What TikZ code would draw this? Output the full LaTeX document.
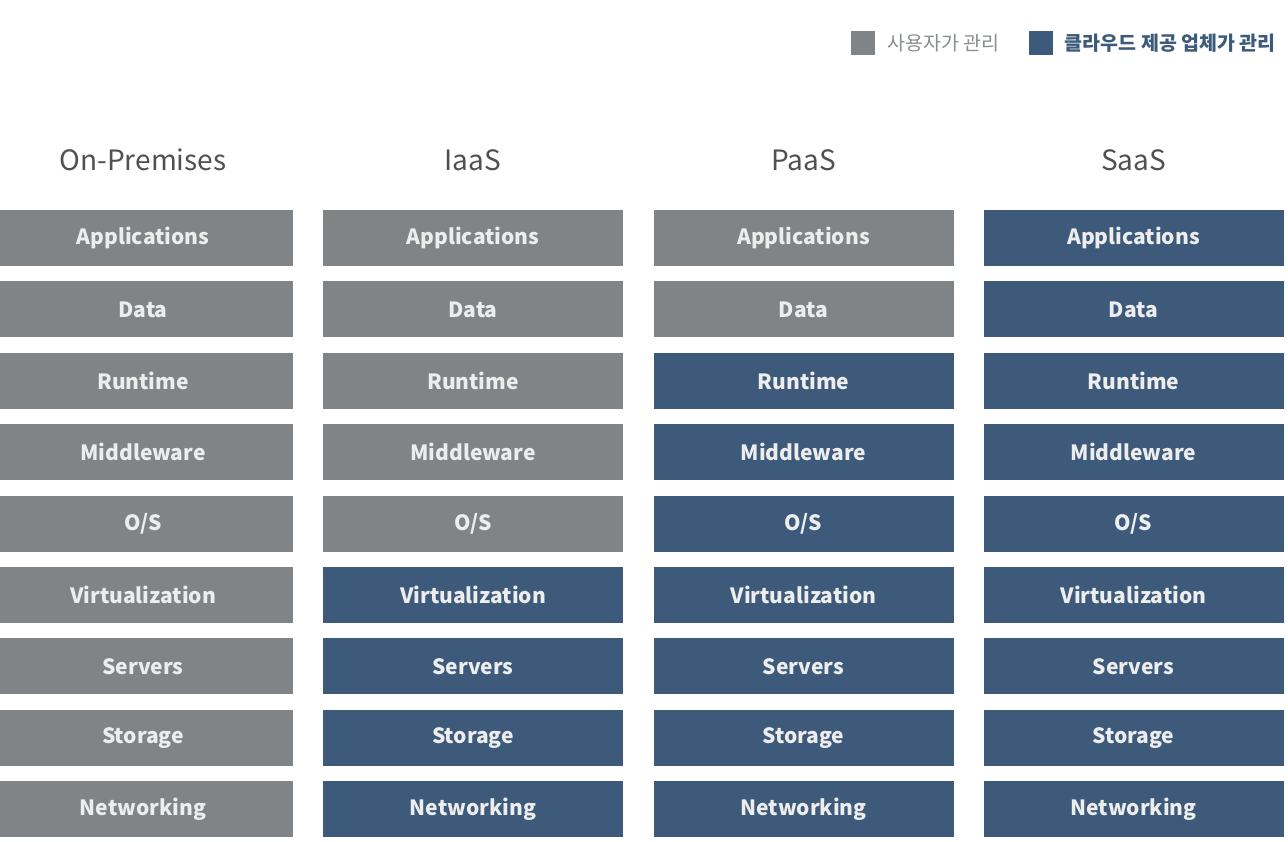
\documentclass[tikz,border=0pt]{standalone}
\usepackage{fontspec}
\setmainfont{Noto Sans CJK KR}
\usetikzlibrary{positioning}
\definecolor{usergray}{HTML}{808486}
\definecolor{vendorblue}{HTML}{3D5A7A}
\definecolor{headgray}{HTML}{505050}
\definecolor{labelgray}{HTML}{8A8D90}
\tikzset{
  layer/.style={minimum width=300pt, minimum height=56pt, inner sep=0pt,
    text=white!93!black, font=\fontsize{21}{21}\selectfont\bfseries},
  user/.style={layer, fill=usergray},
  vendor/.style={layer, fill=vendorblue},
  colhead/.style={text=headgray, font=\fontsize{28}{28}\selectfont},
  keybox/.style={minimum size=24pt, inner sep=0pt},
  keytext/.style={right=12pt of #1, inner sep=0pt, font=\fontsize{19.5}{19.5}\selectfont}
}
\begin{document}
\begin{tikzpicture}[x=1pt,y=-1pt]
\useasboundingbox (0,0) rectangle (1288,842);
\clip (0,0) rectangle (1288,842);
% legend
\node [keybox, fill=usergray] (keyuser) at (863,43) {};
\node [keytext=keyuser, text=labelgray] (keyusertext) {사용자가 관리};
\node [keybox, fill=vendorblue] (keyvendor) at (1040.5,43) {};
\node [keytext=keyvendor, text=vendorblue, font=\fontsize{19.5}{19.5}\selectfont\bfseries] (keyvendortext) {클라우드 제공 업체가 관리};
% columns: name / x centre / number of rows managed by the user
\foreach \col/\cx/\title/\own in {onprem/143/On-Premises/9, iaas/473/IaaS/5, paas/803.5/PaaS/2, saas/1133.5/SaaS/0}{
  \node [colhead] (\col-head) at (\cx,160) {\title};
  \foreach \layer [count=\i from 0] in {Applications, Data, Runtime, Middleware, O/S, Virtualization, Servers, Storage, Networking}{
    \ifnum\i<\own
      \node [user] (\col-\i) at (\cx,{238+71.4*\i}) {\layer};
    \else
      \node [vendor] (\col-\i) at (\cx,{238+71.4*\i}) {\layer};
    \fi
  }
}
\end{tikzpicture}
\end{document}
